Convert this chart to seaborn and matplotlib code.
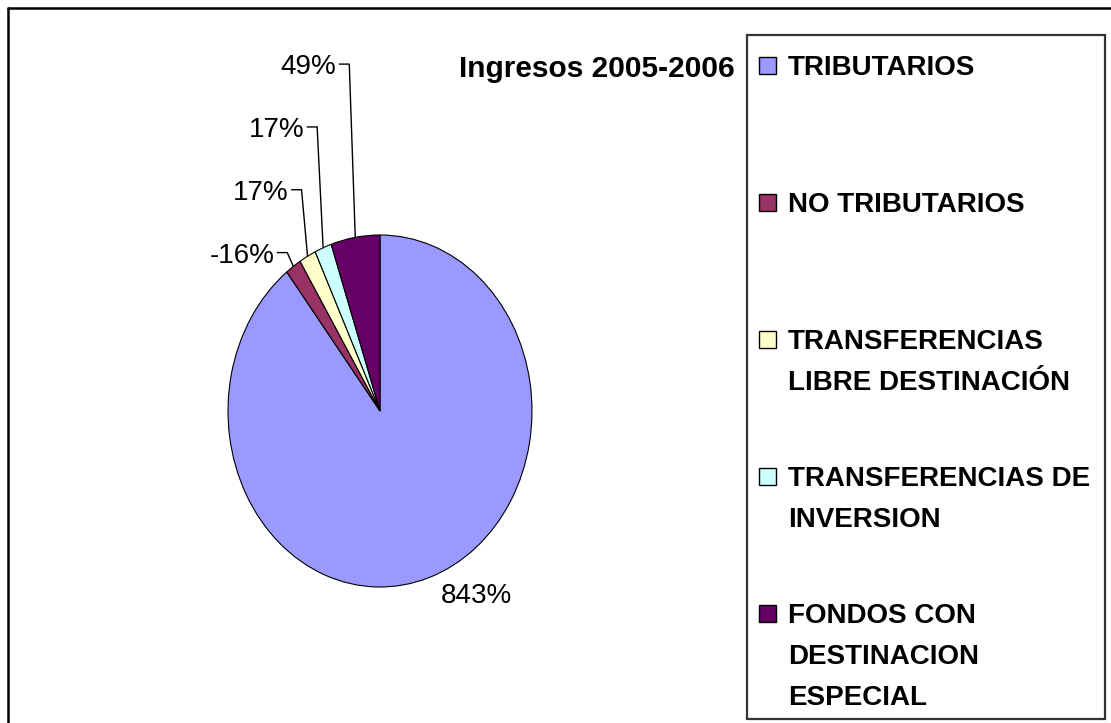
import numpy as np
import matplotlib
matplotlib.use("Agg")
import matplotlib.pyplot as plt
from matplotlib.patches import Rectangle
from matplotlib.lines import Line2D
import seaborn as sns

# Income composition, 2005-2006 (percentages as reported)
categories = [
    "TRIBUTARIOS",
    "NO TRIBUTARIOS",
    "TRANSFERENCIAS\nLIBRE DESTINACIÓN",
    "TRANSFERENCIAS DE\nINVERSION",
    "FONDOS CON\nDESTINACION\nESPECIAL",
]
values = [843, -16, 17, 17, 49]
value_labels = [f"{v}%" for v in values]
colors = ["#9999FF", "#993366", "#FFFFCC", "#CCFFFF", "#660066"]
title = "Ingresos 2005-2006"

sns.set_theme(style="white")
plt.rcParams["font.family"] = ["Liberation Sans", "DejaVu Sans"]

W, H = 1111, 723
fig = plt.figure(figsize=(W / 100, H / 100), dpi=100)
fig.patch.set_facecolor("white")


def fx(px):
    return px / W


def fy(py):
    return 1 - py / H


# Pie axes covers the (slightly stretched) ellipse of the pie
cx, cy, rx, ry = 380, 411, 152, 176
ax = fig.add_axes([fx(cx - rx), fy(cy + ry), 2 * rx / W, 2 * ry / H])
wedges, _ = ax.pie(
    np.abs(values),
    colors=colors,
    startangle=90,
    counterclock=False,
    radius=1.0,
    wedgeprops=dict(edgecolor="black", linewidth=0.8),
)
ax.set_aspect("auto")
ax.set_xlim(-1, 1)
ax.set_ylim(-1, 1)
ax.axis("off")

px_x = 1 / rx  # one pixel in data units (x)
px_y = 1 / ry  # one pixel in data units (y)

label_kw = dict(fontsize=20, color="black", clip_on=False)

for i, (w, lab) in enumerate(zip(wedges, value_labels)):
    mid = np.deg2rad((w.theta1 + w.theta2) / 2)
    px, py = np.cos(mid), np.sin(mid)
    if i == 0:
        ax.text(px + 11 * px_x, py - 26 * px_y, lab, ha="left", va="baseline", **label_kw)
    else:
        level = 0.90 + (i - 1) * 0.357
        elbow_x = px - 6 * px_x
        end_x = elbow_x - 10 * px_x
        ax.plot([px, elbow_x, end_x], [py, level, level], color="black",
                lw=1.0, clip_on=False, solid_joinstyle="miter")
        ax.text(end_x - 3 * px_x, level - 10 * px_y, lab, ha="right", va="baseline", **label_kw)

# Title
fig.text(fx(735), fy(77), title, ha="right", va="baseline",
         fontsize=21.5, fontweight="bold", color="black")

# Legend box
fig.add_artist(Rectangle((fx(747), fy(719)), (1105 - 747) / W, (719 - 35) / H,
                         transform=fig.transFigure, facecolor="white",
                         edgecolor="#333333", linewidth=1.6))
for i, (cat, col) in enumerate(zip(categories, colors)):
    base = 75 + i * 137
    fig.add_artist(Rectangle((fx(759), fy(base - 1)), 17 / W, 17 / H,
                             transform=fig.transFigure, facecolor=col,
                             edgecolor="black", linewidth=1.0))
    for j, line in enumerate(cat.split("\n")):
        fig.text(fx(788), fy(base + j * 41), line, ha="left", va="baseline",
                 fontsize=20, fontweight="bold", color="black")

# Chart area frame (top and left edges visible)
fig.add_artist(Line2D([fx(7.5), 1], [fy(7.5), fy(7.5)], transform=fig.transFigure,
                      color="black", lw=1.8))
fig.add_artist(Line2D([fx(7.5), fx(7.5)], [fy(7.5), 0], transform=fig.transFigure,
                      color="black", lw=1.8))

fig.savefig("out.png", dpi=100)
